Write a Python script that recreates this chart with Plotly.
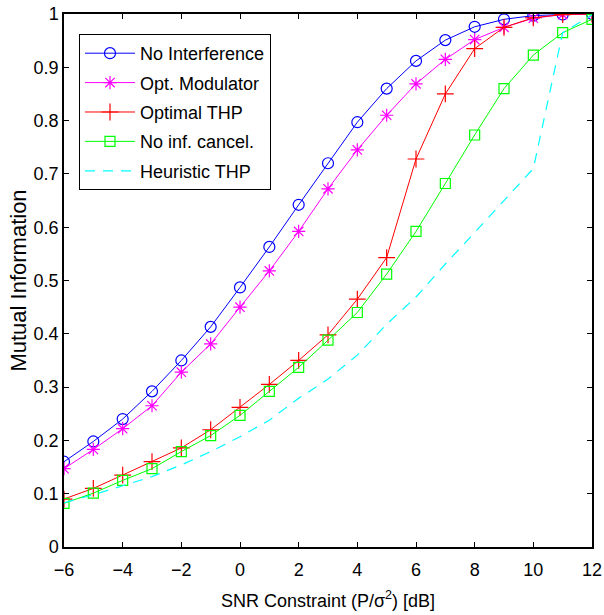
import plotly.graph_objects as go

snr = [-6, -5, -4, -3, -2, -1, 0, 1, 2, 3, 4, 5, 6, 7, 8, 9, 10, 11, 12]

no_interference = [0.160, 0.198, 0.240, 0.292, 0.350, 0.413, 0.487, 0.563, 0.642, 0.720,
                   0.797, 0.860, 0.912, 0.951, 0.976, 0.990, 0.997, 0.999, 1.000]
opt_modulator = [0.147, 0.183, 0.222, 0.265, 0.328, 0.381, 0.450, 0.518, 0.592, 0.672,
                 0.745, 0.810, 0.869, 0.915, 0.952, 0.975, 0.992, 0.999, 1.000]
optimal_thp = [0.090, 0.110, 0.135, 0.160, 0.186, 0.220, 0.262, 0.305, 0.350, 0.398,
               0.465, 0.543, 0.728, 0.850, 0.935, 0.975, 0.993, 0.999, 1.000]
no_inf_cancel = [0.082, 0.101, 0.125, 0.147, 0.179, 0.209, 0.247, 0.292, 0.337, 0.388,
                 0.440, 0.512, 0.592, 0.682, 0.773, 0.860, 0.923, 0.965, 0.990]
heuristic_thp = [0.083, 0.098, 0.115, 0.132, 0.154, 0.179, 0.207, 0.238, 0.279, 0.315,
                 0.360, 0.418, 0.469, 0.531, 0.590, 0.650, 0.710, 0.965, 0.998]

x_ticks = [-6, -4, -2, 0, 2, 4, 6, 8, 10, 12]
y_ticks = [0, 0.1, 0.2, 0.3, 0.4, 0.5, 0.6, 0.7, 0.8, 0.9, 1]
y_tick_text = ["0", "0.1", "0.2", "0.3", "0.4", "0.5", "0.6", "0.7", "0.8", "0.9", "1"]

SANS = "Liberation Sans, Arial, Helvetica, sans-serif"

fig = go.Figure()

series = [
    ("No Interference", no_interference, "#0000FF", "circle-open", 11),
    ("Opt. Modulator", opt_modulator, "#FF00FF", "asterisk-open", 11),
    ("Optimal THP", optimal_thp, "#FF0000", "cross-thin-open", 12),
    ("No inf. cancel.", no_inf_cancel, "#00FF00", "square-open", 10),
]
for name, ys, color, sym, size in series:
    fig.add_trace(go.Scatter(
        x=snr, y=ys, name=name, legendgroup=name, mode="lines+markers",
        line=dict(color=color, width=1),
        marker=dict(symbol=sym, size=size, color=color, line=dict(width=1.2, color=color)),
    ))

fig.add_trace(go.Scatter(
    x=snr, y=heuristic_thp, name="Heuristic THP", legendgroup="Heuristic THP", mode="lines",
    line=dict(color="#00FFFF", width=1.2, dash="10px,8px"),
))

axis_common = dict(
    showline=True, linecolor="black", linewidth=1.5, mirror="ticks",
    ticks="inside", ticklen=5, tickcolor="black", tickwidth=1,
    showgrid=False, zeroline=False, automargin=False,
    ticklabeloverflow="allow",
    tickfont=dict(family=SANS, size=18, color="black"),
)

fig.update_xaxes(range=[-6, 12], tickvals=x_ticks, ticklabelstandoff=6,
                 title=dict(text="SNR Constraint (P/σ<sup>2</sup>) [dB]",
                            font=dict(family=SANS, size=18, color="black"), standoff=15),
                 **axis_common)
fig.update_yaxes(range=[0, 1], tickvals=y_ticks, ticktext=y_tick_text,
                 title=dict(text="Mutual Information",
                            font=dict(family=SANS, size=22, color="black"), standoff=1),
                 **axis_common)

fig.update_layout(
    width=604, height=615,
    margin=dict(l=64, r=12, t=14, b=68, autoexpand=False),
    paper_bgcolor="white", plot_bgcolor="white",
    font=dict(family=SANS, size=18, color="black"),
    legend=dict(x=0.0284, y=0.9625, xanchor="left", yanchor="top",
                bgcolor="white", bordercolor="black", borderwidth=1,
                font=dict(family=SANS, size=18, color="black"),
                tracegroupgap=3, itemwidth=50),
    showlegend=True,
)

# remove the default 8px page margin so the figure sits at the window's corner
fig.write_html("out.html", config={"displayModeBar": False},
               post_script="document.body.style.margin='0';")
